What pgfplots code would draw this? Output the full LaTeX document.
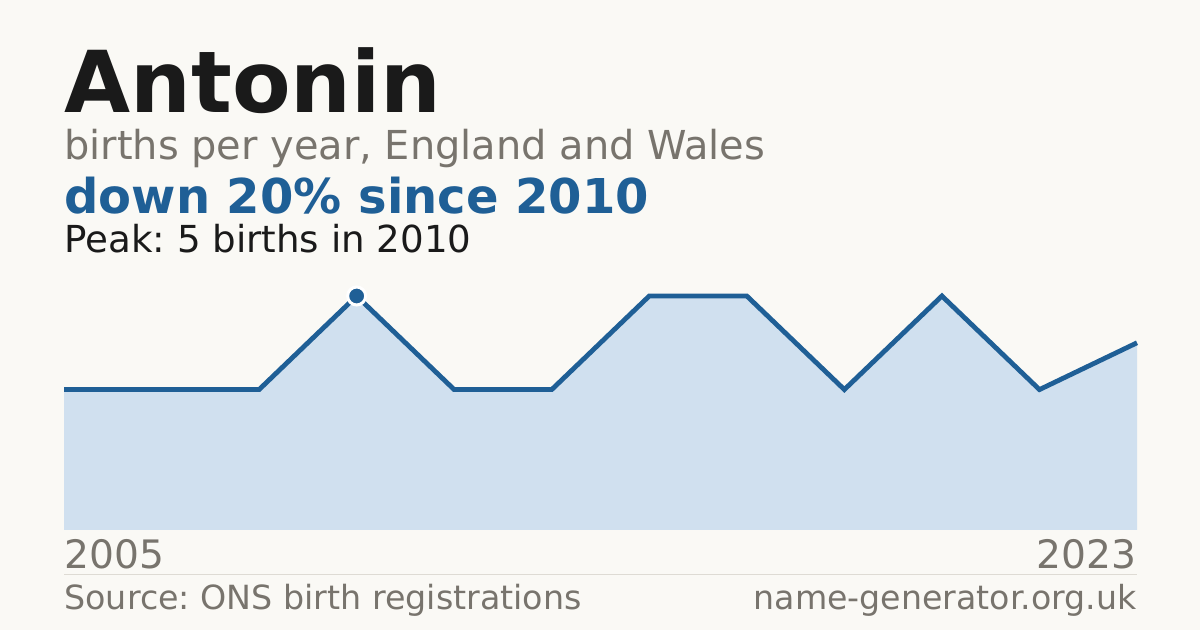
\documentclass[border=0pt]{standalone}
\usepackage{pgfplots}
\pgfplotsset{compat=1.18}
\usepackage{fontspec}
\setmainfont{DejaVu Sans}
\frenchspacing

\definecolor{bg}{HTML}{FAF9F5}
\definecolor{ink}{HTML}{1A1A1A}
\definecolor{muted}{HTML}{78746D}
\definecolor{accent}{HTML}{1F5F96}
\definecolor{area}{HTML}{D0E0EF}
\definecolor{rule}{HTML}{DEDBD4}

% births per year, one point per year with data (2005 ... 2023)
\pgfplotstableread{
idx births
0  3
1  3
2  3
3  5
4  3
5  3
6  5
7  5
8  3
9  5
10 3
11 4
}\births

\begin{document}
\begin{tikzpicture}[x=0.5pt,y=0.5pt]
  % canvas in pixel units, y measured from the bottom
  \fill[bg] (0,0) rectangle (1200,630);

  \node[anchor=base west,inner sep=0,text=ink]
    at (64,517) {\fontsize{42.7}{43}\selectfont\bfseries Antonin};
  \node[anchor=base west,inner sep=0,text=muted]
    at (64,470) {\fontsize{19.95}{20}\selectfont births per year, England and Wales};
  \node[anchor=base west,inner sep=0,text=accent]
    at (64,416) {\fontsize{24}{24}\selectfont\bfseries down 20\% since 2010};
  \node[anchor=base west,inner sep=0,text=ink]
    at (64,377) {\fontsize{18.6}{18}\selectfont Peak: 5 births in 2010};

  \begin{axis}[
    at={(32pt,50pt)}, anchor=origin,
    width=536.5pt, height=117pt,
    scale only axis,
    xmin=0, xmax=11,
    ymin=0, ymax=5,
    axis lines=none,
    ticks=none,
    clip=false,
  ]
    \addplot[fill=area, draw=none] table[x=idx,y=births] {\births} \closedcycle;
    \addplot[accent, line width=2.4pt, mark=none] table[x=idx,y=births] {\births};
    \addplot[only marks, mark=*, mark size=4.5pt,
      mark options={fill=accent, draw=white, line width=1.5pt}]
      coordinates {(3,5)};
  \end{axis}

  \node[anchor=base west,inner sep=0,text=muted]
    at (64,61) {\fontsize{19.6}{20}\selectfont 2005};
  \node[anchor=base east,inner sep=0,text=muted]
    at (1137,61) {\fontsize{19.6}{20}\selectfont 2023};
  \draw[rule, line width=0.5pt] (64,55.5) -- (1137,55.5);
  \node[anchor=base west,inner sep=0,text=muted]
    at (64,20) {\fontsize{16.65}{17}\selectfont Source: ONS birth registrations};
  \node[anchor=base east,inner sep=0,text=muted]
    at (1137,20) {\fontsize{16.6}{17}\selectfont name-generator.org.uk};
\end{tikzpicture}
\end{document}
